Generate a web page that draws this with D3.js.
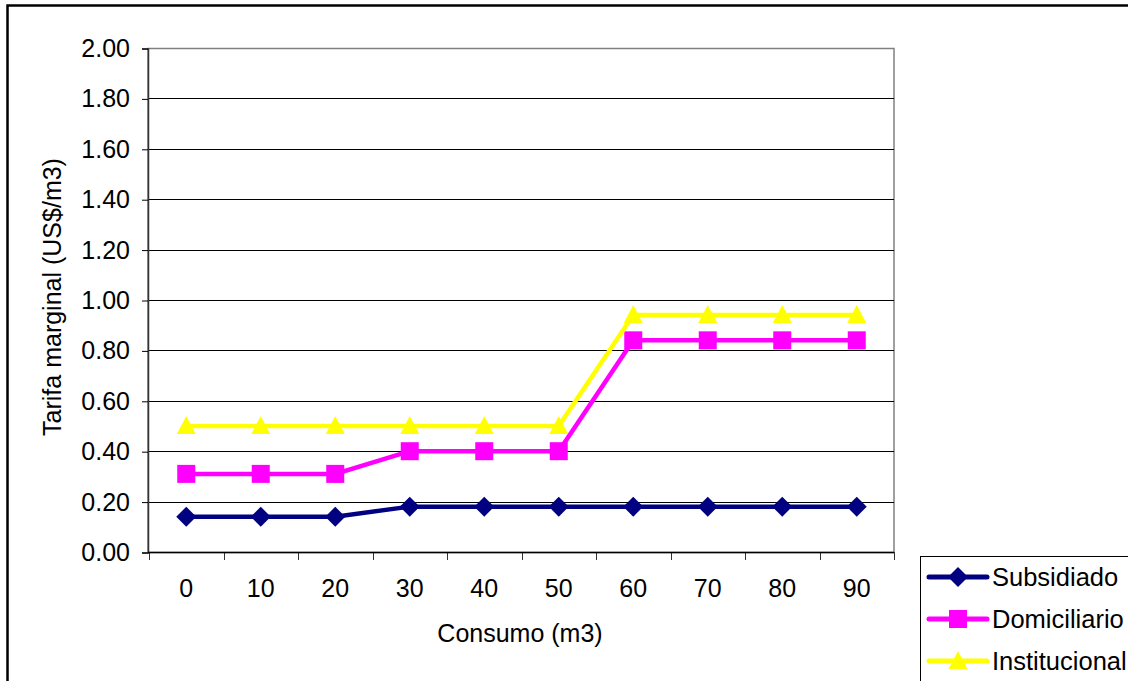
<!DOCTYPE html>
<html>
<head>
<meta charset="utf-8">
<script src="https://cdn.jsdelivr.net/npm/d3@7"></script>
<style>
  html, body { margin: 0; padding: 0; background: #fff; }
  svg { display: block; font-family: "Liberation Sans", Arial, sans-serif; }
</style>
</head>
<body>
<svg id="chart" width="1128" height="681"></svg>
<script>
const categories = ["0", "10", "20", "30", "40", "50", "60", "70", "80", "90"];
const subsidiado = [0.14, 0.14, 0.14, 0.18, 0.18, 0.18, 0.18, 0.18, 0.18, 0.18];
const domiciliario = [0.31, 0.31, 0.31, 0.40, 0.40, 0.40, 0.84, 0.84, 0.84, 0.84];
const institucional = [0.50, 0.50, 0.50, 0.50, 0.50, 0.50, 0.94, 0.94, 0.94, 0.94];
const yTicks = [0, 0.2, 0.4, 0.6, 0.8, 1.0, 1.2, 1.4, 1.6, 1.8, 2.0];
const seriesNames = ["Subsidiado", "Domiciliario", "Institucional"];
const seriesColors = ["#000080", "#FF00FF", "#FFFF00"];
const seriesShapes = ["diamond", "square", "triangle"];
const seriesValues = [subsidiado, domiciliario, institucional];

const FS = 25;
const svg = d3.select("#chart");
const plot = { left: 148, right: 894, top: 48, bottom: 552 };

// outer chart border
svg.append("rect").attr("x", 7.5).attr("y", 5.5).attr("width", 1140).attr("height", 700)
  .attr("fill", "none").attr("stroke", "#000").attr("stroke-width", 2.5);

const x = d3.scaleBand().domain(categories).range([plot.left + 1, plot.right]).padding(0);
const y = d3.scaleLinear().domain([0, 2]).range([plot.bottom, plot.top]);

// plot frame (grey)
svg.append("rect").attr("x", plot.left).attr("y", plot.top + 0.5)
  .attr("width", plot.right - plot.left).attr("height", plot.bottom - plot.top)
  .attr("fill", "none").attr("stroke", "#808080").attr("stroke-width", 1.5);

// gridlines
svg.append("g").selectAll("line").data(yTicks.slice(1, -1)).join("line")
  .attr("x1", plot.left).attr("x2", plot.right)
  .attr("y1", d => Math.round(y(d)) + 0.5).attr("y2", d => Math.round(y(d)) + 0.5)
  .attr("stroke", "#000").attr("stroke-width", 1);

// y axis
const yAxis = d3.axisLeft(y).tickValues(yTicks).tickFormat(d3.format(".2f")).tickSize(6).tickPadding(12);
const gy = svg.append("g").attr("transform", `translate(${plot.left},0.5)`).call(yAxis);
gy.select(".domain").attr("stroke", "#333").attr("stroke-width", 1.5);
gy.selectAll(".tick line").attr("stroke", "#000");
gy.selectAll(".tick text").attr("font-size", FS).attr("fill", "#000")
  .attr("font-family", "Liberation Sans, Arial, sans-serif");

// x axis
const xAxis = d3.axisBottom(x).tickSize(0).tickPadding(0);
const gx = svg.append("g").attr("transform", `translate(0,${plot.bottom})`).call(xAxis);
gx.select(".domain").remove();
gx.selectAll(".tick text").attr("font-size", FS).attr("fill", "#000").attr("dy", null)
  .attr("y", 45).attr("font-family", "Liberation Sans, Arial, sans-serif");
// tick marks at band boundaries
const bounds = categories.map(c => x(c)).concat([x(categories[categories.length - 1]) + x.bandwidth()]);
svg.append("g").selectAll("line").data(bounds).join("line")
  .attr("x1", d => Math.round(d) + 0.5).attr("x2", d => Math.round(d) + 0.5)
  .attr("y1", plot.bottom).attr("y2", plot.bottom + 8).attr("stroke", "#333");
svg.append("line").attr("x1", plot.left).attr("x2", plot.right)
  .attr("y1", plot.bottom + 0.5).attr("y2", plot.bottom + 0.5).attr("stroke", "#000").attr("stroke-width", 1.5);

// axis titles
svg.append("text").attr("x", (plot.left + plot.right) / 2 - 1).attr("y", 642)
  .attr("text-anchor", "middle").attr("font-size", FS).text("Consumo (m3)");
svg.append("text").attr("transform", `translate(61,${(plot.top + plot.bottom) / 2 - 3}) rotate(-90)`)
  .attr("text-anchor", "middle").attr("font-size", FS).text("Tarifa marginal (US$/m3)");

function marker(g, shape, color) {
  if (shape === "diamond") {
    g.append("path").attr("d", "M0,-10L10,0L0,10L-10,0Z").attr("fill", color);
  } else if (shape === "square") {
    g.append("rect").attr("x", -9).attr("y", -9).attr("width", 18).attr("height", 18).attr("fill", color);
  } else {
    g.append("path").attr("d", "M0,-10L9.5,8L-9.5,8Z").attr("fill", color);
  }
}

const line = d3.line().x((d, i) => x(categories[i]) + x.bandwidth() / 2).y(d => y(d));
seriesValues.forEach((vals, s) => {
  const g = svg.append("g");
  g.append("path").datum(vals).attr("d", line).attr("fill", "none")
    .attr("stroke", seriesColors[s]).attr("stroke-width", 4.5).attr("stroke-linejoin", "miter");
  vals.forEach((v, i) => {
    const m = g.append("g").attr("transform", `translate(${x(categories[i]) + x.bandwidth() / 2},${y(v)})`);
    marker(m, seriesShapes[s], seriesColors[s]);
  });
});

// legend
const lg = svg.append("g");
lg.append("rect").attr("x", 920.5).attr("y", 556.5).attr("width", 260).attr("height", 160)
  .attr("fill", "#fff").attr("stroke", "#000").attr("stroke-width", 1);
seriesNames.forEach((name, s) => {
  const cy = 577 + s * 42;
  lg.append("line").attr("x1", 929).attr("x2", 987).attr("y1", cy).attr("y2", cy)
    .attr("stroke", seriesColors[s]).attr("stroke-width", 5).attr("stroke-linecap", "round");
  const m = lg.append("g").attr("transform", `translate(958,${cy})`);
  marker(m, seriesShapes[s], seriesColors[s]);
  lg.append("text").attr("x", 992).attr("y", cy + 9).attr("font-size", 25.5).text(name);
});
</script>
</body>
</html>
